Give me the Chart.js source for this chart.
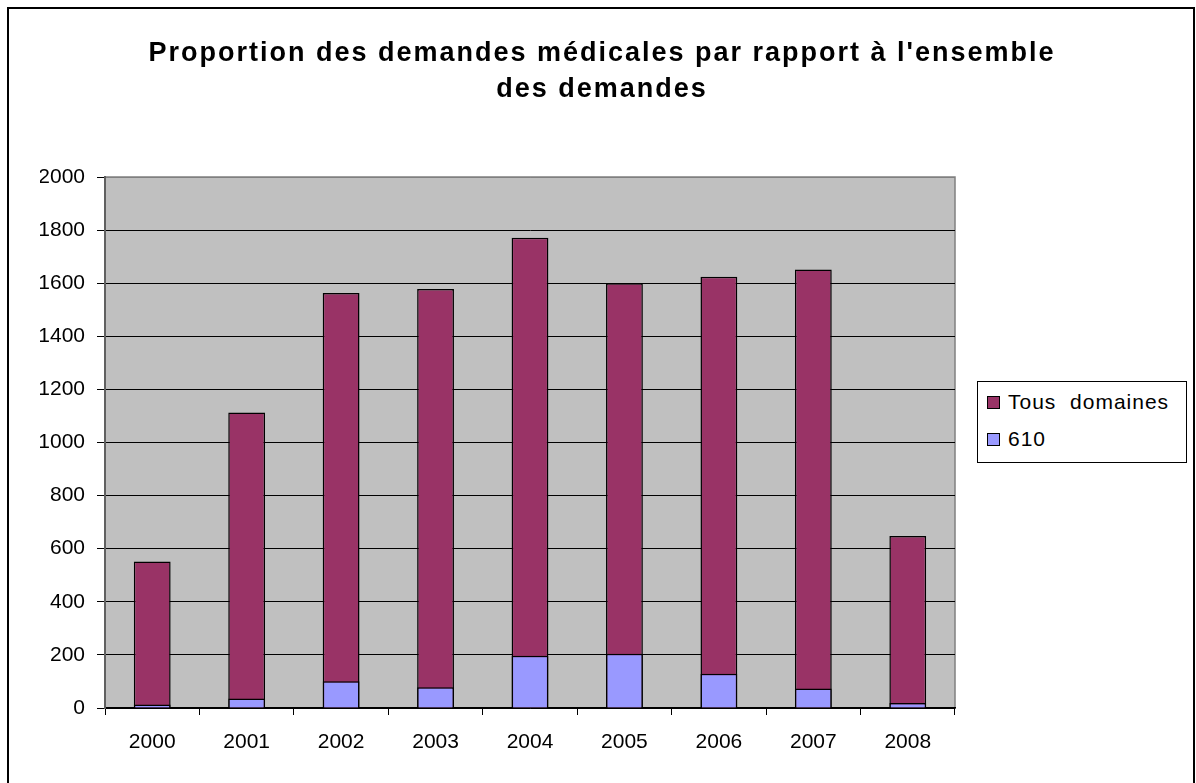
<!DOCTYPE html>
<html>
<head>
<meta charset="utf-8">
<script src="https://cdn.jsdelivr.net/npm/chart.js@4"></script>
<style>
  html, body { margin: 0; padding: 0; background: #fff; overflow: hidden; }
  #wrap { position: relative; width: 1196px; height: 783px; font-family: Arial, 'Liberation Sans', sans-serif; }
  #frame { position: absolute; left: 7px; top: 7px; width: 1184px; height: 800px;
           border: 2px solid #000; border-bottom: none; }
  canvas { position: absolute; left: 0; top: 0; }
  #title { position: absolute; left: 0; top: 34px; width: 1204px; text-align: center;
           font-weight: bold; font-size: 27px; line-height: 36px; letter-spacing: 2px; color: #000; }
  #legend { position: absolute; left: 977px; top: 381px; width: 208px; height: 80px;
            border: 1px solid #000; background: #fff; font-size: 21px; color: #000; letter-spacing: 1px; }
  .row { position: absolute; left: 9px; display: flex; align-items: center; white-space: pre; }
  .sw { width: 11px; height: 11px; border: 1.5px solid #000; margin-right: 8px; }
</style>
</head>
<body>
<div id="wrap">
  <div id="frame"></div>
  <canvas id="c" width="1196" height="783"></canvas>
  <div id="title"></div>
  <div id="legend"></div>
</div>
<script>
// ─── Data ─────────────────────────────────────────────
const years = ['2000', '2001', '2002', '2003', '2004', '2005', '2006', '2007', '2008'];
const tousDomaines = [552, 1113, 1563, 1578, 1771, 1600, 1624, 1652, 648];
const medical610 = [13, 36, 101, 78, 197, 204, 129, 73, 19];
const seriesNames = ['Tous  domaines', '610'];
const seriesColors = ['#993366', '#9999FF'];
const titleLines = ["Proportion des demandes médicales par rapport à l'ensemble", 'des demandes'];

// plot area background + frame, like the Excel chart
const plotBg = {
  id: 'plotBg',
  beforeDraw(chart) {
    const { ctx, chartArea: a } = chart;
    ctx.save();
    ctx.fillStyle = '#C0C0C0';
    ctx.fillRect(a.left, a.top, a.right - a.left, a.bottom - a.top);
    ctx.strokeStyle = '#808080';
    ctx.lineWidth = 1.5;
    ctx.strokeRect(a.left, a.top, a.right - a.left, a.bottom - a.top);
    ctx.restore();
  }
};

const font = { family: "Arial, 'Liberation Sans', sans-serif", size: 21 };

new Chart(document.getElementById('c'), {
  type: 'bar',
  data: {
    labels: years,
    datasets: [
      { label: seriesNames[0], data: tousDomaines, backgroundColor: seriesColors[0],
        borderColor: '#000', borderWidth: 1.5, grouped: false, order: 1 },
      { label: seriesNames[1], data: medical610, backgroundColor: seriesColors[1],
        borderColor: '#000', borderWidth: 1.5, grouped: false, order: 0 },
    ],
  },
  options: {
    responsive: false,
    animation: false,
    devicePixelRatio: 1,
    layout: { padding: { left: 40, right: 241, bottom: 28, top: 177 } },
    datasets: { bar: { barPercentage: 0.39, categoryPercentage: 1 } },
    plugins: {
      legend: { display: false },
      tooltip: { enabled: false },
      title: { display: false },
    },
    scales: {
      x: {
        offset: true,
        grid: { offset: true, drawOnChartArea: false, drawTicks: true, tickLength: 7, color: '#000' },
        border: { color: '#000', width: 1.5 },
        ticks: { color: '#000', font, padding: 15 },
        afterFit(s) { s.height = 47; },
      },
      y: {
        min: 0, max: 2000,
        ticks: { stepSize: 200, color: '#000', font, padding: 12, callback: (v) => String(v) },
        grid: {
          color: (c) => (c.tick && c.tick.value === 2000 ? '#808080' : '#000'),
          lineWidth: 1,
          tickLength: 8,
          tickColor: '#000',
        },
        border: { color: '#606060', width: 2 },
        afterFit(s) { s.width = 65; },
      },
    },
  },
  plugins: [plotBg],
});

// title
document.getElementById('title').innerHTML = titleLines.join('<br>');

// legend box on the right
const legend = document.getElementById('legend');
const rowTops = [8, 45];
seriesNames.forEach((name, i) => {
  const row = document.createElement('div');
  row.className = 'row';
  row.style.top = rowTops[i] + 'px';
  row.innerHTML = `<span class="sw" style="background:${seriesColors[i]}"></span><span>${name}</span>`;
  legend.appendChild(row);
});
</script>
</body>
</html>
